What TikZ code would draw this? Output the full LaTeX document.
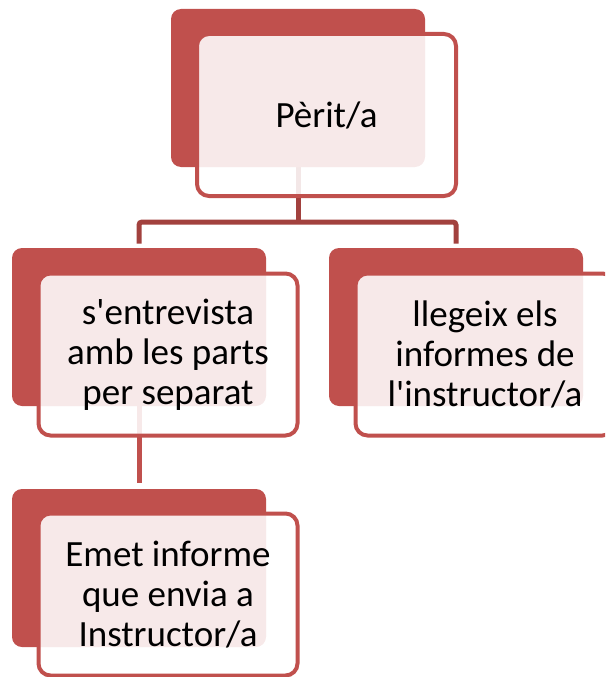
\documentclass[tikz,border=0pt]{standalone}
\usepackage{fontspec}
\setmainfont{Carlito}[Ligatures=TeXOff]
\usetikzlibrary{calc}
\definecolor{acc}{HTML}{C0504D}
\definecolor{accdk}{HTML}{A2413E}
\tikzset{
  backbox/.style={rectangle, rounded corners=10pt, fill=acc, draw=none, minimum width=254pt, minimum height=158pt, inner sep=0pt},
  frontbox/.style={rectangle, rounded corners=12pt, draw=acc, line width=4pt, fill=white, fill opacity=0.88, text opacity=1, minimum width=259pt, minimum height=162pt, inner sep=0pt, align=center, font=\fontsize{37}{40}\selectfont},
  conn/.style={line width=5pt, rounded corners=3pt},
}
\begin{document}
\begin{tikzpicture}[x=1pt,y=-1pt]
\useasboundingbox (0,0) rectangle (605,677);
\clip (0,0) rectangle (605,677);
% back boxes (positions)
\coordinate (c1) at (298,88);
\coordinate (c2) at (139,327);
\coordinate (c3) at (456,327);
\coordinate (c4) at (139,568);
% connectors
\coordinate (h) at (298,222);
\coordinate (e2) at (139,243.5);
\coordinate (e3) at (456,243.5);
\coordinate (e4) at (139,483);
\draw[conn, accdk] (c1) -- (h);
\draw[conn, accdk] (e2) |- (h) -| (e3);
\draw[conn, acc] (c2) -- (e4);
% boxes
\node[backbox] (b1) at (c1) {};
\node[backbox] (b2) at (c2) {};
\node[backbox] (b3) at (c3) {};
\node[backbox] (b4) at (c4) {};
\node[frontbox] (f1) at ($(c1)+(28.5,27)$) {Pèrit/a};
\node[frontbox] (f2) at ($(c2)+(29,27.5)$) {s'entrevista\\amb les parts\\per separat};
\node[frontbox] (f3) at ($(c3)+(29,27.5)$) {llegeix els\\informes de\\l'instructor/a};
\node[frontbox] (f4) at ($(c4)+(29,26.5)$) {Emet informe\\que envia a\\Instructor/a};
\end{tikzpicture}
\end{document}
